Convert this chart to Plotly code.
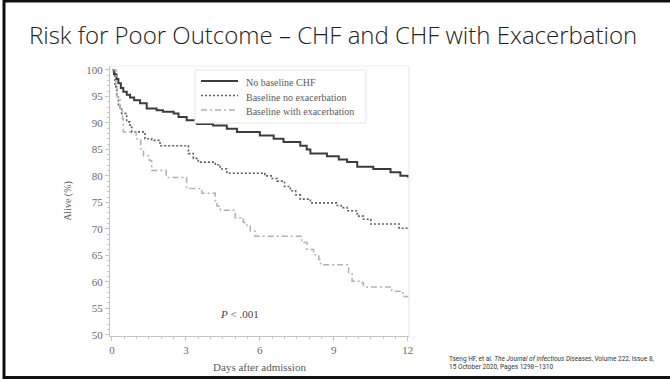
import plotly.graph_objects as go

# ---- data ----
series_names = ["No baseline CHF", "Baseline no exacerbation", "Baseline with exacerbation"]

no_chf_days = [0, 0.08, 0.18, 0.26, 0.36, 0.46, 0.6, 0.73, 0.9, 1.14, 1.41, 1.81, 2.07, 2.5, 2.7,
               3.03, 3.44, 4.1, 4.66, 5.07, 6.0, 6.56, 6.96, 7.64, 7.9, 8.05, 8.72, 9.2, 9.54,
               9.95, 10.6, 11.3, 11.7, 12]
no_chf_alive = [100, 99.2, 98.3, 97.5, 96.6, 95.9, 95.3, 94.8, 94.3, 93.7, 92.7, 92.4, 92.1, 91.8,
                91.1, 90.5, 89.8, 89.5, 88.9, 88.3, 87.6, 87.0, 86.4, 85.7, 85.0, 84.2, 83.7, 83.1,
                82.6, 81.7, 81.3, 80.7, 80.0, 79.7]

no_exac_days = [0, 0.12, 0.19, 0.26, 0.39, 0.6, 0.73, 0.8, 1.34, 1.61, 1.95, 3.1, 3.3, 3.5, 4.19,
                4.39, 4.66, 6.2, 6.5, 6.7, 7.0, 7.24, 7.45, 7.64, 8.05, 9.1, 9.3, 9.54, 9.95, 10.2,
                10.5, 11.65, 12]
no_exac_alive = [100, 96.8, 94.9, 93.0, 91.8, 90.2, 89.2, 88.3, 87.0, 86.7, 85.7, 84.2, 83.3, 82.6,
                 82.1, 81.3, 80.5, 80.0, 79.5, 79.0, 78.0, 77.2, 76.4, 75.6, 74.9, 74.4, 74.0, 73.4,
                 72.4, 71.8, 70.9, 70.1, 70.1]

exac_days = [0, 0.16, 0.21, 0.33, 0.43, 0.46, 0.98, 1.17, 1.28, 1.52, 1.61, 2.2, 3.03, 3.65, 4.19,
             4.26, 4.4, 5.0, 5.33, 5.47, 5.61, 5.8, 7.7, 7.91, 8.18, 8.39, 8.46, 9.6, 9.74, 10.15,
             10.2, 11.35, 11.8, 12]
exac_alive = [100, 96.8, 94.9, 92.7, 90.8, 88.3, 87.0, 85.1, 83.8, 82.9, 81.0, 79.7, 77.6, 76.7,
              75.3, 74.3, 73.5, 72.1, 71.2, 70.5, 69.6, 68.6, 67.4, 66.1, 65.1, 64.2, 63.2, 61.7,
              60.1, 59.8, 59.0, 58.2, 57.2, 57.0]

x_ticks = [0, 3, 6, 9, 12]
y_ticks = [50, 55, 60, 65, 70, 75, 80, 85, 90, 95, 100]

title_text = "Risk for Poor Outcome \u2013 CHF and CHF with Exacerbation"
citation_line1 = "Tseng HF, et al. <i>The Journal of Infectious Diseases</i>, Volume 222, Issue 8,"
citation_line2 = "15 October 2020, Pages 1298\u20131310"

# ---- layout geometry ----
W, H = 670, 379
L, R, T, B = 110, 409, 66, 336


def px(x):
    return (x - L) / (R - L)


def py(y):
    return (B - y) / (B - T)


SERIF = "Liberation Serif, DejaVu Serif, serif"

styles = [
    dict(color="#3c3c3c", width=2),
    dict(color="#5e5e5e", width=1.6, dash="2px,2px"),
    dict(color="#b0b0b0", width=1.5, dash="6px,3px,2px,3px"),
]
series_x = [no_chf_days, no_exac_days, exac_days]
series_y = [no_chf_alive, no_exac_alive, exac_alive]

fig = go.Figure()
for name, xs, ys, st in zip(series_names, series_x, series_y, styles):
    fig.add_trace(go.Scatter(x=xs, y=ys, mode="lines", line_shape="hv", name=name,
                             line=st, showlegend=False))

axis_common = dict(showgrid=False, zeroline=False, showline=True, linecolor="#c4c4c4", linewidth=1,
                   ticks="outside", tickcolor="#c4c4c4", ticklen=4, tickwidth=1, automargin=False,
                   tickfont=dict(family=SERIF, size=11, color="#6a6a6a"))

fig.update_xaxes(range=[-0.08, 12.05], tickvals=x_ticks, ticktext=[str(v) for v in x_ticks],
                 minor=dict(dtick=0.5, ticks="outside", ticklen=2, tickcolor="#c8c8c8"),
                 title=dict(text="Days after admission", font=dict(family=SERIF, size=11, color="#5a5a5a"),
                            standoff=8),
                 **axis_common)
fig.update_yaxes(range=[49.75, 100.75], tickvals=y_ticks, ticktext=[str(v) for v in y_ticks],
                 minor=dict(dtick=1, ticks="outside", ticklen=2, tickcolor="#c8c8c8"),
                 title=dict(text="Alive (%)", font=dict(family=SERIF, size=10, color="#5a5a5a"),
                            standoff=12),
                 **axis_common)

shapes = [
    # faint image frame (top and right)
    dict(type="line", xref="paper", yref="paper", x0=px(L), x1=px(R), y0=py(T), y1=py(T),
         line=dict(color="#ececec", width=1)),
    dict(type="line", xref="paper", yref="paper", x0=px(R), x1=px(R), y0=py(B), y1=py(T),
         line=dict(color="#e4e4e4", width=1)),
    # legend box
    dict(type="rect", xref="paper", yref="paper", x0=px(195), x1=px(366), y0=py(123), y1=py(70),
         fillcolor="white", line=dict(color="#e6e6e6", width=1), layer="above"),
    # slide border
    dict(type="line", xref="paper", yref="paper", x0=px(4), x1=px(4), y0=py(0), y1=py(379),
         line=dict(color="#111111", width=3)),
    dict(type="line", xref="paper", yref="paper", x0=px(3), x1=px(670), y0=py(1), y1=py(1),
         line=dict(color="#111111", width=3)),
    dict(type="line", xref="paper", yref="paper", x0=px(3), x1=px(670), y0=py(377.5), y1=py(377.5),
         line=dict(color="#111111", width=3)),
]

annotations = [
    dict(text=title_text, xref="paper", yref="paper", x=px(27), y=py(35), xanchor="left",
         yanchor="middle", showarrow=False,
         font=dict(family="Open Sans, sans-serif", size=24, color="#222222", weight=300)),
    dict(text="<i>P</i> < .001", xref="x", yref="y", x=4.3, y=53.9, xanchor="left",
         yanchor="middle", showarrow=False, font=dict(family=SERIF, size=11, color="#444444")),
    dict(text=citation_line1 + "<br>" + citation_line2, xref="paper", yref="paper", x=px(447),
         y=py(363), xanchor="left", yanchor="middle", align="left", showarrow=False,
         font=dict(family="Liberation Sans Narrow, Roboto, sans-serif", size=6.5, color="#333333")),
]

# manual legend entries (sample line + label)
legend_rows = [81, 95.5, 110]
for name, st, yy in zip(series_names, styles, legend_rows):
    shapes.append(dict(type="line", xref="paper", yref="paper", x0=px(201), x1=px(238),
                       y0=py(yy), y1=py(yy), line=st, layer="above"))
    annotations.append(dict(text=name, xref="paper", yref="paper", x=px(244), y=py(yy + 1.5),
                            xanchor="left", yanchor="middle", showarrow=False,
                            font=dict(family=SERIF, size=10, color="#5a5a5a")))

fig.update_layout(
    width=W, height=H,
    margin=dict(l=L, r=W - R, t=T, b=H - B, pad=0),
    paper_bgcolor="white", plot_bgcolor="white",
    showlegend=False,
    shapes=shapes,
    annotations=annotations,
)

fig.write_html("out.html", config={"displayModeBar": False},
               post_script="document.body.style.margin='0';document.body.style.overflow='hidden';"
                           "document.documentElement.style.overflow='hidden';")
